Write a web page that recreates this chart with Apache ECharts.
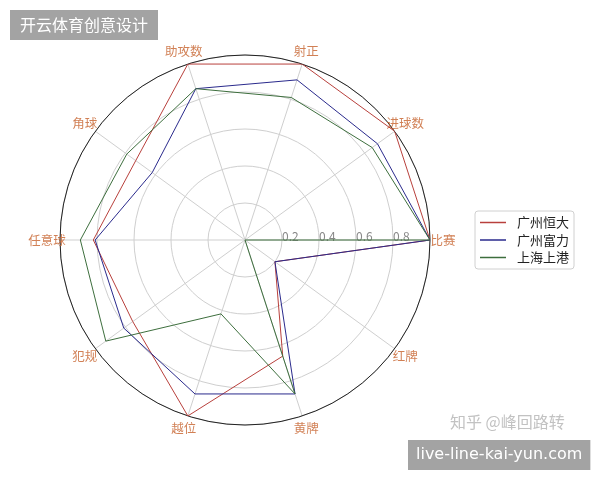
<!DOCTYPE html>
<html><head><meta charset="utf-8">
<script src="https://cdn.jsdelivr.net/npm/echarts@6/dist/echarts.min.js"></script>
<style>html,body{margin:0;padding:0;background:#fff}#c{width:600px;height:480px}</style>
</head><body><div id="c"></div>
<script>
var categories = ['比赛','进球数','射正','助攻数','角球','任意球','犯规','越位','黄牌','红牌'];
var teams = ['广州恒大','广州富力','上海上港'];
var hengda = [1.0, 1.0, 1.0, 1.0, 0.73, 0.82, 0.75, 1.0, 0.66, 0.2];
var fuli   = [1.0, 0.885, 0.91, 0.86, 0.62, 0.81, 0.81, 0.875, 0.875, 0.2];
var shanggang = [1.0, 0.85, 0.81, 0.86, 0.79, 0.89, 0.93, 0.42, 0.875, 0.0];
var radiusTicks = ['0.2','0.4','0.6','0.8'];
var colors = ['#b8403c','#2a2a8c','#3d6e3d'];
var FONT = 'Noto Sans CJK SC';
var LABEL_R = 1.07; // category labels are centred just outside the outer ring

var step = 360 / categories.length;
function loop(vals){
  var out = [];
  for (var i = 0; i <= vals.length; i++) out.push([vals[i % vals.length], i * step]);
  return out;
}
var labelData = categories.map(function(c, i){ return {name:c, value:[LABEL_R, i * step]}; });

var chart = echarts.init(document.getElementById('c'), null, {renderer:'canvas'});
chart.setOption({
  animation:false,
  backgroundColor:'#fff',
  textStyle:{fontFamily:FONT},
  title:[
    {text:'开云体育创意设计', left:10, top:10, backgroundColor:'#a3a3a3', padding:[7,10,7,10],
     textStyle:{color:'#fff', fontSize:16, lineHeight:16, fontWeight:'normal', fontFamily:FONT}},
    {text:'知乎 @峰回路转', left:445, top:409,
     textStyle:{color:'#c2c2c2', fontSize:16, fontWeight:'normal', fontFamily:FONT}},
    {text:'live-line-kai-yun.com', left:408, top:440, backgroundColor:'#a3a3a3', padding:[6,8,6,8],
     textStyle:{color:'#fff', fontSize:16, lineHeight:18, fontWeight:'normal', fontFamily:'DejaVu Sans'}}
  ],
  legend:{
    orient:'vertical', left:475, top:211, data:teams,
    icon:'rect',
    borderColor:'#d0d0d0', borderWidth:1, borderRadius:3, padding:[5,5,5,5],
    itemWidth:26, itemHeight:1.5, itemGap:4.5,
    textStyle:{fontSize:13, color:'#222', fontFamily:FONT, padding:[0,0,0,6]}
  },
  polar:{center:[245,240], radius:185},
  angleAxis:{
    type:'value', min:0, max:360, interval:step, startAngle:0, clockwise:false,
    axisLine:{show:true, lineStyle:{color:'#222', width:1}},
    axisTick:{show:false},
    splitLine:{show:true, lineStyle:{color:'#cfcfcf', width:1}},
    axisLabel:{show:false}
  },
  radiusAxis:{
    type:'value', min:0, max:1, interval:0.2,
    axisLine:{show:false}, axisTick:{show:false},
    splitLine:{show:true, lineStyle:{color:'#cfcfcf', width:1}},
    axisLabel:{color:'#888', fontSize:12, align:'left', verticalAlign:'bottom', margin:-2, fontFamily:FONT,
      formatter:function(v){ var i = Math.round(v/0.2) - 1; return (i>=0 && i<radiusTicks.length) ? radiusTicks[i] : ''; }}
  },
  series:[
    {name:teams[0], type:'line', coordinateSystem:'polar', data:loop(hengda), symbol:'none', lineStyle:{color:colors[0], width:1}, itemStyle:{color:colors[0]}},
    {name:teams[1], type:'line', coordinateSystem:'polar', data:loop(fuli), symbol:'none', lineStyle:{color:colors[1], width:1}, itemStyle:{color:colors[1]}},
    {name:teams[2], type:'line', coordinateSystem:'polar', data:loop(shanggang), symbol:'none', lineStyle:{color:colors[2], width:1}, itemStyle:{color:colors[2]}},
    {name:'axisNames', type:'scatter', coordinateSystem:'polar', data:labelData, symbolSize:0, silent:true, clip:false,
     label:{show:true, position:'inside', formatter:'{b}', color:'#c5602a', fontSize:12.5, fontFamily:FONT}}
  ]
});
</script></body></html>
